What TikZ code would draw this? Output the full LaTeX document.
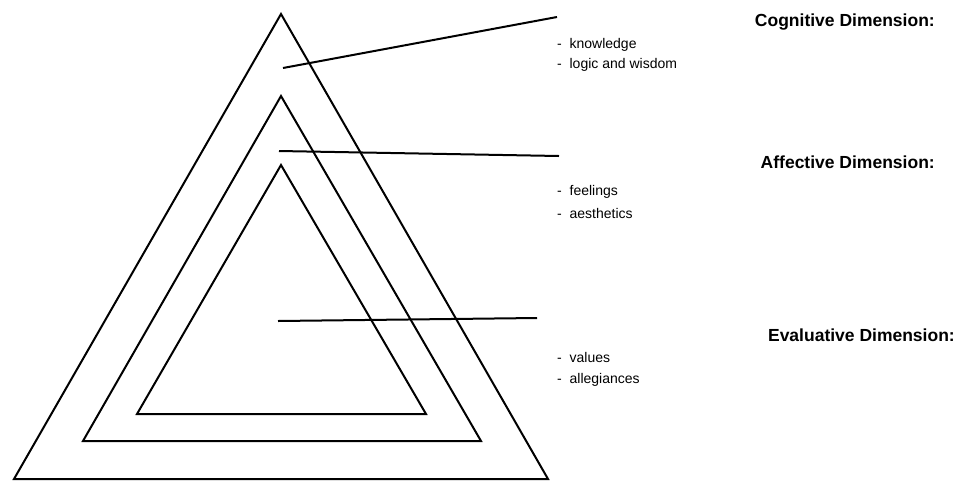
\documentclass[tikz,border=0pt]{standalone}
\usepackage{fontspec}
\setmainfont{Liberation Sans}
\begin{document}
\begin{tikzpicture}[x=1pt,y=-1pt,
  tri/.style={draw=black,line width=2pt,line join=miter},
  lead/.style={draw=black,line width=2pt},
  ttl/.style={inner sep=0pt,anchor=base east,font=\fontsize{17.5}{21}\selectfont\bfseries},
  item/.style={inner sep=0pt,anchor=base west,font=\fontsize{14}{17}\selectfont}]
\useasboundingbox (0,0) rectangle (964,480);
% triangles
\draw[tri] (281,14) -- (14,479) -- (548,479) -- cycle;
\draw[tri] (281,96) -- (83,441) -- (481,441) -- cycle;
\draw[tri] (281,165) -- (137,414) -- (426,414) -- cycle;
% leader coordinates
\coordinate (c1) at (283,68);  \coordinate (c2) at (557,17);
\coordinate (a1) at (279,151); \coordinate (a2) at (559,156);
\coordinate (e1) at (278,321); \coordinate (e2) at (537,318);
\draw[lead] (c1) -- (c2);
\draw[lead] (a1) -- (a2);
\draw[lead] (e1) -- (e2);
% texts
\node[ttl] (ct) at (935,26) {Cognitive Dimension:};
\node[item] (ck) at (557,48) {-\ \ knowledge};
\node[item] (cl) at (557,68) {-\ \ logic and wisdom};
\node[ttl] (at) at (935,168) {Affective Dimension:};
\node[item] (af) at (557,195) {-\ \ feelings};
\node[item] (aa) at (557,218) {-\ \ aesthetics};
\node[ttl] (et) at (955,341) {Evaluative Dimension:};
\node[item] (ev) at (557,362) {-\ \ values};
\node[item] (ea) at (557,383) {-\ \ allegiances};
\end{tikzpicture}
\end{document}
